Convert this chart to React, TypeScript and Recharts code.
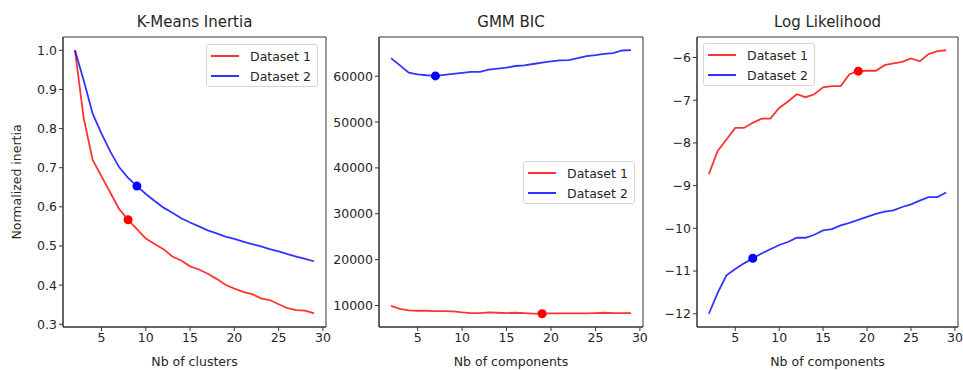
import React from 'react'
import { LineChart, Line, XAxis, YAxis, ReferenceDot, ReferenceArea, Label } from 'recharts'

const ks = [2, 3, 4, 5, 6, 7, 8, 9, 10, 11, 12, 13, 14, 15, 16, 17, 18, 19, 20, 21, 22, 23, 24, 25, 26, 27, 28, 29]

const inertia1 = [1.0, 0.825, 0.72, 0.678, 0.636, 0.594, 0.567, 0.543, 0.519, 0.505, 0.492, 0.473, 0.463, 0.448, 0.44, 0.429, 0.416, 0.401, 0.391, 0.383, 0.377, 0.366, 0.362, 0.351, 0.341, 0.336, 0.335, 0.328]
const inertia2 = [1.0, 0.922, 0.838, 0.787, 0.741, 0.701, 0.674, 0.653, 0.633, 0.615, 0.598, 0.585, 0.571, 0.56, 0.55, 0.54, 0.532, 0.524, 0.518, 0.511, 0.505, 0.499, 0.492, 0.486, 0.479, 0.473, 0.467, 0.461]

const bic1 = [9900, 9270, 8920, 8840, 8840, 8770, 8770, 8700, 8480, 8340, 8340, 8480, 8410, 8340, 8410, 8340, 8200, 8200, 8270, 8270, 8270, 8270, 8270, 8340, 8410, 8340, 8340, 8340]
const bic2 = [63960, 62380, 60790, 60430, 60220, 60070, 60290, 60500, 60720, 60940, 60940, 61440, 61660, 61870, 62230, 62380, 62670, 62950, 63240, 63460, 63530, 63960, 64390, 64610, 64900, 65040, 65620, 65690]

const ll1 = [-8.73, -8.19, -7.92, -7.65, -7.65, -7.53, -7.43, -7.43, -7.18, -7.03, -6.86, -6.93, -6.86, -6.7, -6.67, -6.67, -6.39, -6.32, -6.31, -6.31, -6.18, -6.14, -6.1, -6.02, -6.09, -5.92, -5.85, -5.83]
const ll2 = [-12.0, -11.51, -11.1, -10.95, -10.82, -10.7, -10.59, -10.49, -10.39, -10.32, -10.22, -10.22, -10.15, -10.05, -10.02, -9.93, -9.87, -9.8, -9.73, -9.66, -9.61, -9.58, -9.5, -9.44, -9.35, -9.27, -9.27, -9.16]

// chosen k for each series (marker)
const inertiaBest = [8, 9]
const bicBest = [19, 7]
const llBest = [19, 7]

const seriesNames = ['Dataset 1', 'Dataset 2']
const colors = ['#ff0000', '#0000ff']
const xTicks = [5, 10, 15, 20, 25, 30]
const inertiaTicks = [0.3, 0.4, 0.5, 0.6, 0.7, 0.8, 0.9, 1.0]
const bicTicks = [10000, 20000, 30000, 40000, 50000, 60000]
const llTicks = [-12, -11, -10, -9, -8, -7, -6]

const FONT = '"DejaVu Sans", sans-serif'
const TEXT = '#262626'
const AXIS = '#333'
const H = 370
const TOP = 37
const XAX_H = 43
const X_DOMAIN: [number, number] = [0.65, 30.35]

function buildRows(a: number[], b: number[]) {
  return ks.map((k, i) => ({ k, s1: a[i], s2: b[i] }))
}

function minus(v: number) {
  return v < 0 ? '\u2212' + Math.abs(v) : String(v)
}

interface PanelProps {
  left: number
  width: number
  plotLeft: number
  plotRight: number
  title: string
  xLabel: string
  yLabel?: string
  rows: { k: number; s1: number; s2: number }[]
  best: number[]
  yDomain: [number, number]
  yTicks: number[]
  yFormat: (v: number) => string
  legendPos: { left: number; top: number }
}

function Legend2({ left, top }: { left: number; top: number }) {
  return (
    <div
      style={{
        position: 'absolute', left, top, width: 112, height: 43, boxSizing: 'border-box',
        border: '1px solid #d6d6d6', borderRadius: 3, background: 'rgba(255,255,255,0.8)',
        fontFamily: FONT, fontSize: 12.5, color: TEXT,
      }}
    >
      {seriesNames.map((n, i) => (
        <div key={n} style={{ position: 'absolute', left: 4, top: 2 + i * 20, height: 18, display: 'flex', alignItems: 'center' }}>
          <div style={{ width: 28, height: 2, background: colors[i], opacity: 0.8, marginRight: 11 }} />
          <span>{n}</span>
        </div>
      ))}
    </div>
  )
}

function Panel(p: PanelProps) {
  const yw = p.plotLeft - p.left
  const mr = p.left + p.width - p.plotRight
  const tickStyle = { fontFamily: FONT, fontSize: 12.5, fill: TEXT }
  return (
    <>
      <div
        style={{
          position: 'absolute', left: p.plotLeft, width: p.plotRight - p.plotLeft, top: 13,
          textAlign: 'center', fontFamily: FONT, fontSize: 15, color: TEXT,
        }}
      >
        {p.title}
      </div>
      <div style={{ position: 'absolute', left: p.left, top: 0 }}>
        <LineChart width={p.width} height={H} data={p.rows} margin={{ top: TOP, right: mr, bottom: 0, left: 0 }}>
          <XAxis
            dataKey="k"
            type="number"
            domain={X_DOMAIN}
            allowDataOverflow
            ticks={xTicks}
            height={XAX_H}
            tickSize={4}
            tick={tickStyle}
            stroke={AXIS}
          >
            <Label value={p.xLabel} position="insideBottom" offset={4} style={{ fontFamily: FONT, fontSize: 12.5, fill: TEXT }} />
          </XAxis>
          <YAxis
            type="number"
            domain={p.yDomain}
            allowDataOverflow
            ticks={p.yTicks}
            interval={0}
            width={yw}
            tickSize={4}
            tick={tickStyle}
            tickFormatter={p.yFormat}
            stroke={AXIS}
          >
            {p.yLabel && (
              <Label value={p.yLabel} angle={-90} position="insideLeft" offset={17} style={{ textAnchor: 'middle', fontFamily: FONT, fontSize: 12.5, fill: TEXT }} />
            )}
          </YAxis>
          {/* frame around the plot, like matplotlib spines */}
          <ReferenceArea
            x1={X_DOMAIN[0]}
            x2={X_DOMAIN[1]}
            y1={p.yDomain[0]}
            y2={p.yDomain[1]}
            fill="none"
            stroke={AXIS}
            strokeWidth={1}
            ifOverflow="visible"
          />
          <Line dataKey="s1" stroke={colors[0]} strokeOpacity={0.8} strokeWidth={1.8} dot={false} isAnimationActive={false} />
          <Line dataKey="s2" stroke={colors[1]} strokeOpacity={0.8} strokeWidth={1.8} dot={false} isAnimationActive={false} />
          {p.best.map((b, i) => {
            const row = p.rows.find((r) => r.k === b)!
            return (
              <ReferenceDot
                key={i}
                x={b}
                y={i === 0 ? row.s1 : row.s2}
                r={4.5}
                fill={colors[i]}
                stroke="none"
              />
            )
          })}
        </LineChart>
      </div>
      <Legend2 left={p.legendPos.left} top={p.legendPos.top} />
    </>
  )
}

export default function App() {
  return (
    <div style={{ position: 'absolute', left: 0, top: 0, width: 963, height: H, background: '#fff' }}>
      <Panel
        left={0}
        width={340}
        plotLeft={63}
        plotRight={326}
        title="K-Means Inertia"
        xLabel="Nb of clusters"
        yLabel="Normalized inertia"
        rows={buildRows(inertia1, inertia2)}
        best={inertiaBest}
        yDomain={[0.293, 1.034]}
        yTicks={inertiaTicks}
        yFormat={(v) => v.toFixed(1)}
        legendPos={{ left: 206, top: 44 }}
      />
      <Panel
        left={330}
        width={320}
        plotLeft={379}
        plotRight={643}
        title="GMM BIC"
        xLabel="Nb of components"
        rows={buildRows(bic1, bic2)}
        best={bicBest}
        yDomain={[5300, 68560]}
        yTicks={bicTicks}
        yFormat={(v) => String(v)}
        legendPos={{ left: 523, top: 161 }}
      />
      <Panel
        left={650}
        width={313}
        plotLeft={697}
        plotRight={958}
        title="Log Likelihood"
        xLabel="Nb of components"
        rows={buildRows(ll1, ll2)}
        best={llBest}
        yDomain={[-12.31, -5.52]}
        yTicks={llTicks}
        yFormat={minus}
        legendPos={{ left: 703, top: 43 }}
      />
    </div>
  )
}
